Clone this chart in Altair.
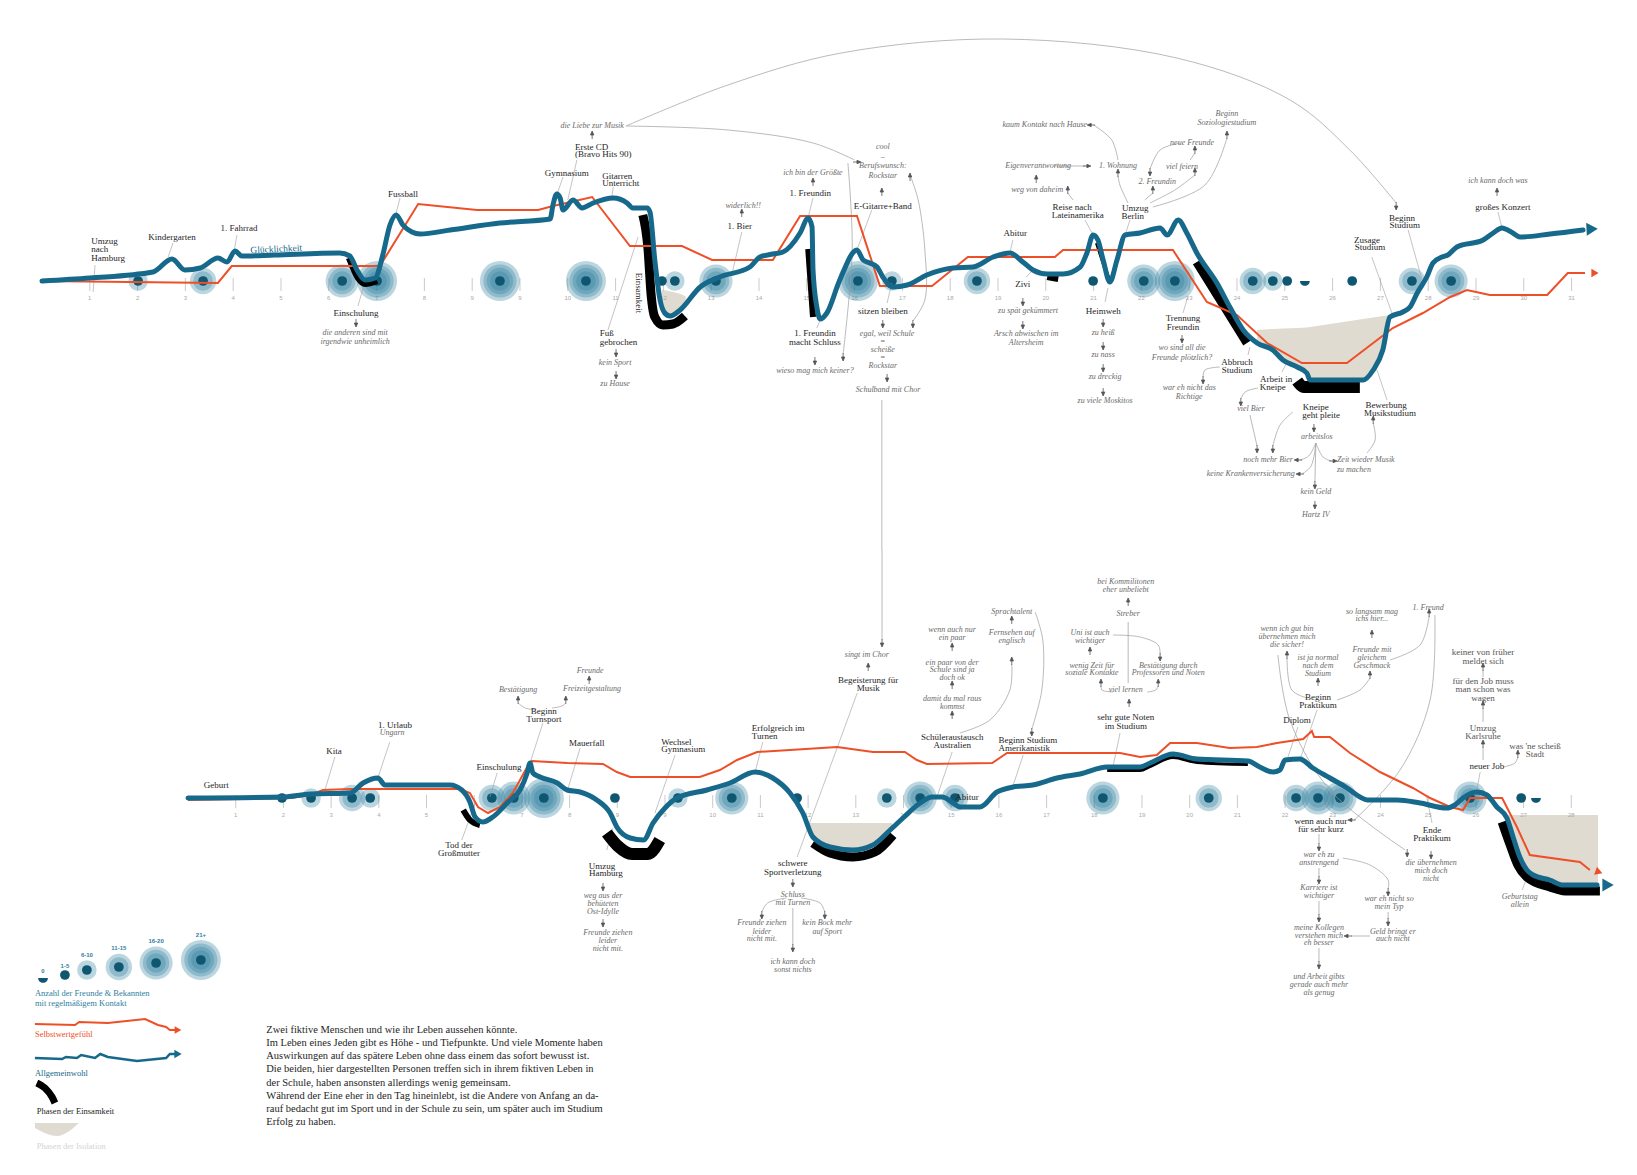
import altair as alt
import pandas as pd

# ====================== DATA (age along the life line, value above the time axis) ======================
TOP_TICK_POS = list(range(1, 33))
TOP_TICK_LAB = ["1", "2", "3", "4", "5", "6", "7", "8", "9", "9", "10", "11", "12", "13", "14", "15",
                "16", "17", "18", "19", "20", "21", "22", "23", "24", "25", "26", "27", "28", "29", "30", "31"]
BOT_TICK_POS = list(range(1, 30))
BOT_TICK_LAB = ["1", "2", "3", "4", "5", "6", "7", "8", "9", "9", "10", "11", "12", "13", "14", "15",
                "16", "17", "18", "19", "20", "21", "22", "23", "24", "25", "26", "27", "28"]

# ---------- person 1 (top) ----------
TOP_WELL = [(0, 0), (1.00, 3), (2.32, 9), (2.72, 22), (2.99, 11), (3.31, 13), (3.68, 23), (3.87, 19), (4.04, 30),
            (4.18, 25), (4.87, 26), (6.23, 28), (6.44, 25), (6.59, 11), (6.76, 1), (6.97, 3), (7.13, 26), (7.28, 56),
            (7.41, 66), (7.55, 56), (7.74, 49), (7.91, 47), (8.54, 51), (9.58, 58), (10.63, 62), (10.69, 76),
            (10.77, 87), (10.84, 83), (10.90, 71), (11.11, 81), (11.30, 73), (11.53, 78), (11.95, 83), (12.24, 78),
            (12.36, 73), (12.66, 73), (12.72, 69), (12.82, 21), (12.93, -19), (13.03, -32), (13.14, -35),
            (13.35, -29), (13.77, -6), (14.18, 4), (14.81, 14), (15.02, 24), (15.29, 27), (15.50, 29), (15.86, 48),
            (16.03, 63), (16.11, 54), (16.13, 11), (16.21, -26), (16.28, -38), (16.42, -32), (16.69, 1), (17.05, 31),
            (17.18, 21), (17.32, 18), (17.47, 14), (17.59, 4), (17.80, -6), (18.10, -4), (18.51, 6), (19.06, 13),
            (19.48, 14), (19.90, 24), (20.25, 28), (20.52, 19), (20.73, 11), (21.03, 7), (21.36, 7), (21.72, 14),
            (21.86, 28), (21.99, 46), (22.09, 41), (22.20, 21), (22.34, -1), (22.49, 21), (22.66, 46), (22.97, 48),
            (23.39, 53), (23.54, 46), (23.77, 61), (23.95, 48), (24.16, 28), (24.58, -2), (24.85, -26), (25.13, -49),
            (25.42, -62), (25.75, -69), (25.96, -79), (26.26, -86), (26.46, -92), (26.53, -99), (27.64, -99),
            (27.85, -89), (28.05, -69), (28.20, -36), (28.47, -31), (28.62, -26), (28.77, -12), (28.97, 4),
            (29.10, 18), (29.29, 24), (29.41, 26), (29.60, 34), (30.15, 41), (30.36, 48), (30.54, 53), (30.77, 48),
            (30.92, 44), (31.55, 47), (32.24, 51)]
TOP_WELL_END = (32.43, 52)
TOP_SELF = [(0, 0), (3.68, -2), (3.97, 15), (7.07, 15), (7.87, 77), (9.10, 71), (10.38, 71), (10.69, 75),
            (11.51, 84), (12.30, 35), (13.39, 35), (14.02, 21), (15.29, 21), (15.86, 65), (17.05, 65), (17.53, -5),
            (18.62, -5), (19.37, 24), (21.19, 24), (21.36, 31), (23.66, 31), (24.37, -21), (25.00, -34),
            (25.63, -62), (26.36, -82), (27.30, -82), (28.26, -47), (28.89, -32), (29.46, -16), (29.81, -9),
            (30.29, -14), (31.49, -14), (31.92, 8), (32.28, 8)]
TOP_SELF_END = (32.49, 8)
TOP_FRIENDS = [(2.01, "6-10"), (3.37, "11-15"), (6.28, "16-20"), (7.01, "21+"), (9.58, "21+"), (11.38, "21+"),
               (12.97, "1-5"), (13.24, "6-10"), (14.10, "16-20"), (17.07, "21+"), (17.78, "6-10"),
               (19.56, "11-15"), (21.99, "1-5"), (23.05, "16-20"), (23.70, "21+"), (25.33, "11-15"),
               (25.75, "6-10"), (26.05, "1-5"), (26.42, "0"), (27.41, "1-5"), (28.66, "11-15"), (29.48, "16-20")]
TOP_LONELY = [("Einschulung", 2, [(6.42, 23), (6.61, 3), (6.76, -3), (7.01, 0)]),
              ("Einsamkeit", 3, [(12.57, 66), (12.68, 31), (12.74, -12), (12.82, -36), (12.99, -44), (13.20, -43),
                                 (13.45, -35)]),
              ("Schluss", 2, [(16.03, 32), (16.13, -36)]),
              ("Zivi", 2, [(21.03, 4), (21.26, 2)]),
              ("Heimweh", 1, [(22.07, 38), (22.20, 19), (22.34, -2)]),
              ("Trennung", 3, [(24.16, 19), (24.69, -22), (25.21, -62)]),
              ("Kneipe", 4, [(26.26, -100), (26.40, -106), (27.57, -106)])]
TOP_ISOLATION = [("a", [(12.97, -9, -34), (13.20, -11, -35), (13.45, -15, -27), (13.47, -16, -16)]),
                 ("b", [(25.42, -49, -62), (25.75, -48, -69), (25.96, -47.5, -79), (26.26, -47, -86),
                        (26.46, -46.5, -92), (26.53, -46, -99), (27.64, -38, -99), (27.85, -36.5, -89),
                        (28.05, -35, -69), (28.20, -34, -36)])]
TOP_EVENTS = [(2.72, 44, "Kindergarten"), (4.12, 53, "1. Fahrrad"), (7.55, 87, "Fussball"),
              (6.57, -32, "Einschulung"), (10.98, 108, "Gymnasium"), (14.60, 55, "1. Bier"),
              (16.07, 88, "1. Freundin"), (16.17, -52, "1. Freundin"), (16.17, -61, "macht Schluss"),
              (17.59, 75, "E-Gitarre+Band"), (17.59, -30, "sitzen bleiben"), (20.36, 48, "Abitur"),
              (20.52, -3, "Zivi"), (21.55, 74, "Reise nach"), (21.67, 66, "Lateinamerika"), (22.87, 73, "Umzug"),
              (22.82, 65, "Berlin"), (22.20, -30, "Heimweh"), (23.87, -37, "Trennung"), (23.87, -46, "Freundin"),
              (25.00, -81, "Abbruch"), (25.00, -89, "Studium"), (25.82, -98, "Arbeit in"), (25.75, -106, "Kneipe"),
              (26.65, -126, "Kneipe"), (26.76, -134, "geht pleite"), (28.12, -124, "Bewerbung"),
              (28.20, -132, "Musikstudium"), (27.72, 41, "Zusage"), (27.78, 34, "Studium"), (28.45, 63, "Beginn"),
              (28.51, 56, "Studium"), (30.56, 74, "großes Konzert")]
TOP_EVENTS_LEFT = [(1.03, 40, "Umzug"), (1.03, 32, "nach"), (1.03, 23, "Hamburg"), (11.15, 134, "Erste CD"),
                   (11.15, 127, "(Bravo Hits 90)"), (11.72, 105, "Gitarren"), (11.72, 98, "Unterricht"),
                   (11.67, -52, "Fuß"), (11.67, -61, "gebrochen")]
TOP_NOTES = [(6.55, -52, "die anderen sind mit"), (6.55, -61, "irgendwie unheimlich"),
             (11.51, 155, "die Liebe zur Musik"), (11.99, -82, "kein Sport"), (11.99, -103, "zu Hause"),
             (14.67, 75, "widerlich!!"), (16.13, 108, "ich bin der Größte"), (16.17, -90, "wieso mag mich keiner?"),
             (17.59, 134, "cool"), (17.59, 124, "–"), (17.59, 115, "Berufswunsch:"), (17.59, 105, "Rockstar"),
             (17.68, -53, "egal, weil Schule"), (17.59, -61, "="), (17.59, -69, "scheiße"), (17.59, -77, "="),
             (17.59, -85, "Rockstar"), (17.70, -109, "Schulband mit Chor"), (20.63, -30, "zu spät gekümmert"),
             (20.59, -53, "Arsch abwischen im"), (20.59, -62, "Altersheim"), (20.84, 115, "Eigenverantwortung"),
             (22.51, 115, "1. Wohnung"), (20.82, 91, "weg von daheim"), (20.98, 156, "kaum Kontakt nach Hause"),
             (23.33, 99, "2. Freundin"), (23.85, 114, "viel feiern"), (24.06, 138, "neue Freunde"),
             (24.79, 167, "Beginn"), (24.79, 158, "Soziologiestudium"), (22.20, -52, "zu heiß"),
             (22.20, -74, "zu nass"), (22.24, -96, "zu dreckig"), (22.24, -120, "zu viele Moskitos"),
             (23.85, -67, "wo sind all die"), (23.85, -77, "Freunde plötzlich?"), (24.00, -107, "war eh nicht das"),
             (24.00, -116, "Richtige"), (25.29, -128, "viel Bier"), (26.67, -156, "arbeitslos"),
             (26.65, -211, "kein Geld"), (26.65, -234, "Hartz IV"), (30.46, 100, "ich kann doch was")]
TOP_NOTES_LEFT = [(27.09, -179, "Zeit wieder Musik"), (27.09, -189, "zu machen")]
TOP_NOTES_RIGHT = [(26.17, -179, "noch mehr Bier"), (26.21, -193, "keine Krankenversicherung")]
TOP_LEADERS = [(1.11, 16, 1.07, -11), (2.74, 38, 2.64, 24), (4.08, 46, 4.02, 30), (7.49, 83, 7.41, 68),
               (6.72, -7, 6.61, -25), (11.19, 121, 11.00, 81), (10.90, 104, 10.77, 86), (11.95, 94, 11.92, 83),
               (11.84, -49, 12.47, 44), (14.64, 49, 14.44, 8), (16.13, 83, 16.03, 64), (16.28, -39, 16.21, -47),
               (17.36, 71, 17.05, 31), (17.68, -22, 17.78, -2), (20.31, 41, 20.25, 28), (20.59, 4, 20.73, 11),
               (21.82, 61, 21.99, 46), (22.76, 61, 22.66, 46), (22.30, -7, 22.24, -21), (23.87, -32, 23.97, -16),
               (25.23, -74, 25.27, -66), (25.94, -91, 26.05, -81), (28.14, -119, 27.93, -89),
               (27.82, 24, 28.24, -32), (28.58, 51, 28.89, -2), (30.46, 69, 30.54, 54)]
TOP_LINKS = [("arc", [(12.22, 155), (14.35, 196), (16.72, 228), (20.10, 242), (23.74, 223), (26.11, 181),
                      (27.36, 131), (28.33, 78)]),
             ("rock", [(12.22, 155), (14.35, 151), (16.13, 138), (17.00, 121)]),
             ("loop", [(18.16, 106), (18.33, 81), (18.47, 31), (18.47, -19), (18.22, -40)]),
             ("beruf", [(16.86, 118), (16.95, 31), (16.76, -73)]),
             ("kaum", [(22.51, 121), (22.38, 141), (22.00, 156)]),
             ("reise", [(21.57, 81), (21.46, 88)]),
             ("eigen", [(21.17, 115), (21.83, 115)]),
             ("u1", [(22.72, 78), (22.55, 96), (22.51, 105)]),
             ("u2", [(23.07, 81), (23.24, 88)]),
             ("u3", [(23.18, 78), (23.70, 91), (24.12, 106)]),
             ("u4", [(23.24, 74), (24.33, 96), (24.79, 143)]),
             ("nf", [(23.81, 138), (23.39, 131), (23.18, 112)]),
             ("fn", [(24.02, 121), (24.12, 128)]),
             ("abbr", [(24.64, -86), (24.33, -89), (24.29, -96)]),
             ("knb", [(25.44, -107), (25.17, -111), (25.08, -118)]),
             ("bier", [(25.27, -134), (25.42, -165)]),
             ("pleite", [(26.17, -131), (25.90, -144), (25.75, -165)]),
             ("a1", [(26.65, -162), (26.50, -175), (26.32, -179)]),
             ("a2", [(26.65, -162), (26.55, -185), (26.36, -193)]),
             ("a3", [(26.65, -162), (26.63, -201)]),
             ("a4", [(26.65, -162), (26.80, -176), (26.97, -180)]),
             ("musik", [(27.72, -172), (27.89, -159), (27.85, -142)]),
             ("schulband", [(17.57, -119), (17.57, -269)])]
TOP_ARROWS = [(6.57, -42, "d"), (11.51, 146, "u"), (12.01, -72, "d"), (12.01, -94, "d"), (14.64, 68, "u"),
              (16.13, 99, "u"), (16.17, -80, "d"), (17.57, 89, "u"), (17.59, -43, "d"), (17.68, -97, "d"),
              (20.52, -21, "d"), (20.52, -44, "d"), (20.80, 102, "u"), (21.86, 115, "r"), (21.95, 156, "l"),
              (21.46, 91, "u"), (22.51, 108, "u"), (23.24, 91, "u"), (24.12, 109, "u"), (24.79, 146, "u"),
              (23.18, 109, "d"), (24.12, 131, "u"), (22.20, -42, "d"), (22.20, -65, "d"), (22.20, -87, "d"),
              (22.20, -111, "d"), (23.85, -58, "d"), (24.29, -99, "d"), (25.08, -121, "d"), (25.42, -168, "d"),
              (25.75, -168, "d"), (26.61, -147, "d"), (26.28, -179, "l"), (26.32, -193, "l"), (26.63, -204, "d"),
              (27.01, -180, "r"), (26.63, -224, "d"), (27.85, -139, "u"), (30.44, 89, "u"), (28.33, 75, "d"),
              (17.05, 119, "r"), (18.16, 104, "u"), (18.22, -43, "d"), (16.76, -76, "d")]

# ---------- person 2 (bottom) ----------
BOT_WELL = [(0, 0), (1.99, 1), (2.56, 4), (3.40, 5), (3.67, 15), (3.98, 20), (4.13, 13), (5.49, 13), (5.74, 8),
            (5.91, -4), (6.02, -19), (6.18, -24), (6.39, -19), (6.71, -4), (6.96, 8), (7.11, 25), (7.17, 35),
            (7.23, 25), (7.38, 21), (7.74, 15), (7.95, 8), (8.22, 6), (8.57, -2), (8.85, -15), (8.99, -29),
            (9.27, -40), (9.55, -42), (9.75, -25), (10.00, -10), (10.25, 0), (10.88, 8), (11.36, 15), (11.89, 26),
            (12.26, 20), (12.62, 5), (12.89, -15), (13.10, -39), (13.46, -49), (13.94, -52), (14.36, -47),
            (14.72, -32), (14.99, -20), (15.35, -5), (15.60, 1), (15.81, 1), (16.04, -5), (16.18, -9), (16.60, -9),
            (16.96, 6), (17.30, 11), (17.71, 13), (18.22, 20), (18.70, 24), (19.27, 31), (19.96, 31), (20.17, 35),
            (20.65, 44), (21.15, 39), (22.22, 37), (22.47, 31), (22.75, 26), (22.89, 28), (23.00, 38), (23.31, 39),
            (23.58, 30), (23.94, 20), (24.30, 10), (24.57, 1), (24.72, -2), (25.35, -2), (25.83, -5), (26.39, -10),
            (26.56, -7), (26.73, 0), (27.02, 6), (27.23, 3), (27.44, -9), (27.65, -20), (27.78, -39), (27.92, -59),
            (28.07, -72), (28.20, -77), (28.55, -82), (28.83, -87), (29.54, -87)]
BOT_WELL_END = (29.77, -87)
BOT_SELF = [(0, -2), (2.14, 0), (2.56, 3), (2.83, 8), (3.40, 9), (5.70, 9), (5.91, 5), (6.08, -9), (6.29, -15),
            (6.54, -9), (6.81, 5), (7.11, 31), (7.21, 37), (7.95, 35), (8.70, 34), (8.99, 26), (9.27, 21),
            (10.73, 21), (11.15, 28), (11.51, 38), (11.93, 46), (12.62, 48), (13.61, 51), (14.36, 46), (15.03, 46),
            (15.28, 38), (15.49, 34), (16.86, 35), (17.17, 45), (19.54, 45), (19.96, 41), (20.31, 43), (20.59, 55),
            (21.15, 55), (21.84, 50), (22.41, 51), (22.83, 55), (23.38, 59), (23.56, 67), (23.61, 61), (23.94, 61),
            (24.36, 45), (24.99, 26), (25.68, 10), (26.04, 0), (26.46, -9), (26.73, -12), (26.88, 0), (27.55, 0),
            (27.86, -29), (28.13, -57), (29.18, -64), (29.39, -72)]
BOT_SELF_END = (29.58, -74)
BOT_FRIENDS = [(1.97, "1-5"), (2.58, "6-10"), (3.44, "11-15"), (3.82, "6-10"), (6.37, "11-15"), (6.83, "16-20"),
               (7.46, "21+"), (8.95, "1-5"), (10.27, "6-10"), (11.40, "16-20"), (12.77, "1-5"), (14.65, "6-10"),
               (15.35, "16-20"), (16.08, "11-15"), (19.18, "16-20"), (21.40, "11-15"), (23.23, "11-15"),
               (23.69, "16-20"), (24.15, "16-20"), (26.88, "16-20"), (27.95, "1-5"), (28.26, "0")]
BOT_LONELY = [("Großmutter", 2, [(5.77, -12), (5.91, -22), (6.12, -27)]),
              ("Umzug", 4, [(8.78, -35), (9.01, -48), (9.31, -56), (9.64, -56), (9.89, -42)]),
              ("Sport", 3, [(13.10, -45), (13.46, -55), (13.94, -59), (14.40, -54), (14.78, -37)]),
              ("Studium", 0, [(19.27, 27.5), (19.96, 27.5), (20.17, 31.5), (20.65, 40.5), (21.15, 35.5),
                              (22.22, 33.5)]),
              ("Ende", 3, [(27.55, -24), (27.72, -47), (27.88, -67), (28.07, -79), (28.55, -89), (28.87, -93),
                           (29.60, -93)])]
BOT_ISOLATION = [("a", [(13.04, -25, -32), (13.10, -25, -39), (13.46, -25, -49), (13.94, -25, -52),
                        (14.36, -25, -47), (14.72, -25, -32), (14.76, -25, -28)]),
                 ("b", [(27.65, -17, -20), (27.78, -17, -39), (27.92, -17, -59), (28.07, -17, -72),
                        (28.20, -17, -77), (28.55, -17, -82), (28.83, -17, -87), (29.56, -17, -87)])]
BOT_EVENTS = [(0.59, 13, "Geburt"), (3.06, 47, "Kita"), (4.34, 73, "1. Urlaub"), (5.68, -47, "Tod der"),
              (5.68, -55, "Großmutter"), (6.52, 31, "Einschulung"), (7.46, 87, "Beginn"), (7.46, 79, "Turnsport"),
              (8.36, 55, "Mauerfall"), (8.68, -68, "Umzug"), (8.76, -75, "Hamburg"),
              (14.26, 118, "Begeisterung für"), (14.26, 110, "Musik"), (12.68, -65, "schwere"),
              (12.68, -74, "Sportverletzung"), (16.02, 61, "Schüleraustausch"), (16.02, 53, "Australien"),
              (17.61, 58, "Beginn Studium"), (17.53, 50, "Amerikanistik"), (16.33, 1, "Abitur"),
              (19.66, 81, "sehr gute Noten"), (19.66, 72, "im Studium"), (23.25, 78, "Diplom"),
              (23.69, 101, "Beginn"), (23.69, 93, "Praktikum"), (23.75, -23, "wenn auch nur"),
              (23.75, -31, "für sehr kurz"), (26.08, -32, "Ende"), (26.08, -40, "Praktikum"),
              (27.23, 32, "neuer Job")]
BOT_EVENTS_GRAY = [(27.15, 70, "Umzug"), (27.15, 62, "Karlsruhe"), (28.24, 52, "was 'ne scheiß"),
                   (28.24, 44, "Stadt"), (27.15, 146, "keiner von früher"), (27.15, 137, "meldet sich"),
                   (27.15, 117, "für den Job muss"), (27.15, 109, "man schon was"), (27.15, 100, "wagen")]
BOT_EVENTS_LEFT = [(9.92, 56, "Wechsel"), (9.92, 49, "Gymnasium"), (11.82, 70, "Erfolgreich im"),
                   (11.82, 62, "Turnen")]
BOT_NOTES = [(4.28, 65, "Ungarn"), (6.92, 108, "Bestätigung"), (8.47, 109, "Freizeitgestaltung"),
             (8.43, 127, "Freunde"), (8.70, -98, "weg aus der"), (8.70, -106, "behüteten"),
             (8.70, -114, "Ost-Idylle"), (8.80, -135, "Freunde ziehen"), (8.80, -143, "leider"),
             (8.80, -151, "nicht mit."), (14.23, 143, "singt im Chor"), (12.68, -97, "Schluss"),
             (12.68, -105, "mit Turnen"), (12.03, -125, "Freunde ziehen"), (12.03, -134, "leider"),
             (12.03, -141, "nicht mit."), (13.40, -125, "kein Bock mehr"), (13.40, -134, "auf Sport"),
             (12.68, -164, "ich kann doch"), (12.68, -172, "sonst nichts"), (16.02, 168, "wenn auch nur"),
             (16.02, 160, "ein paar"), (16.02, 135, "ein paar von der"), (16.02, 128, "Schule sind ja"),
             (16.02, 120, "doch ok"), (16.02, 99, "damit du mal raus"), (16.02, 91, "kommst"),
             (17.27, 165, "Fernsehen auf"), (17.27, 157, "englisch"), (17.27, 186, "Sprachtalent"),
             (19.66, 216, "bei Kommilitonen"), (19.66, 208, "eher unbeliebt"), (19.71, 184, "Streber"),
             (19.66, 108, "viel lernen"), (18.95, 132, "wenig Zeit für"), (18.95, 125, "soziale Kontakte"),
             (18.91, 165, "Uni ist auch"), (18.91, 157, "wichtiger"), (20.55, 132, "Bestätigung durch"),
             (20.55, 125, "Professoren und Noten"), (23.04, 169, "wenn ich gut bin"),
             (23.04, 161, "übernehmen mich"), (23.04, 153, "die sicher!"), (23.69, 140, "ist ja normal"),
             (23.69, 132, "nach dem"), (23.69, 124, "Studium"), (24.82, 148, "Freunde mit"),
             (24.82, 140, "gleichem"), (24.82, 132, "Geschmack"), (24.82, 186, "so langsam mag"),
             (24.82, 179, "ichs hier..."), (26.00, 190, "1. Freund"), (23.71, -57, "war eh zu"),
             (23.71, -65, "anstrengend"), (23.71, -90, "Karriere ist"), (23.71, -98, "wichtiger"),
             (23.71, -130, "meine Kollegen"), (23.71, -138, "verstehen mich"), (23.71, -145, "eh besser"),
             (23.71, -179, "und Arbeit gibts"), (23.71, -187, "gerade auch mehr"), (23.71, -195, "als genug"),
             (25.18, -101, "war eh nicht so"), (25.18, -109, "mein Typ"), (25.26, -134, "Geld bringt er"),
             (25.26, -141, "auch nicht"), (26.06, -65, "die übernehmen"), (26.06, -73, "mich doch"),
             (26.06, -81, "nicht"), (27.92, -99, "Geburtstag"), (27.92, -107, "allein")]
BOT_LEADERS = [(3.08, 41, 2.87, 8), (4.23, 56, 3.98, 20), (5.74, -42, 6.02, -5), (6.48, 25, 6.33, 1),
               (7.44, 75, 7.17, 35), (8.22, 50, 7.97, 10), (8.78, -52, 8.91, -30), (10.21, 43, 9.79, -15),
               (12.05, 56, 11.89, 26), (14.03, 105, 12.77, -59), (16.02, 46, 15.70, 1), (17.51, 43, 17.30, 13),
               (19.54, 65, 19.39, 31), (23.27, 71, 23.04, 38), (23.67, 88, 23.31, 38), (23.79, -12, 24.09, 11),
               (26.08, -25, 25.97, 1), (27.09, 26, 27.02, 8), (27.97, -92, 28.05, -82)]
BOT_LINKS = [("schulband", [(14.55, 248), (14.55, 158)]),
             ("tb", [(7.30, 88), (7.07, 90), (6.92, 95)]),
             ("tf", [(7.63, 90), (7.84, 92), (7.92, 95)]),
             ("sf", [(12.55, -100), (12.15, -105), (12.03, -114)]),
             ("sb", [(12.85, -100), (13.25, -105), (13.35, -114)]),
             ("sk", [(12.68, -110), (12.68, -147)]),
             ("af", [(16.18, 65), (16.81, 78), (17.23, 108), (17.27, 134)]),
             ("sa", [(17.76, 186), (17.92, 158), (17.90, 108), (17.69, 69)]),
             ("ls", [(19.71, 115), (19.71, 176)]),
             ("lw", [(19.39, 106), (19.16, 108), (19.14, 112)]),
             ("ub", [(19.39, 163), (19.96, 161), (20.34, 153), (20.38, 144)]),
             ("lb", [(20.11, 106), (20.29, 108), (20.34, 112)]),
             ("pw", [(23.46, 100), (23.14, 108), (23.04, 140)]),
             ("pf", [(24.09, 98), (24.57, 108), (24.78, 120)]),
             ("gf", [(25.20, 138), (25.83, 153), (26.02, 182)]),
             ("fk", [(26.14, 183), (26.04, 98), (25.41, 28), (24.45, -22)]),
             ("wu", [(22.85, 143), (23.10, 78), (23.94, 8), (25.52, -52)]),
             ("k1", [(23.71, -36), (23.71, -46)]), ("k2", [(23.71, -70), (23.71, -79)]),
             ("k3", [(23.71, -103), (23.71, -117)]), ("k4", [(23.71, -150), (23.71, -164)]),
             ("at", [(24.21, -60), (24.78, -67), (25.16, -82), (25.16, -91)]),
             ("tg", [(25.16, -114), (25.16, -121)]),
             ("gk", [(24.78, -138), (24.38, -138)]),
             ("js", [(27.57, 31), (27.82, 35), (27.88, 41)]),
             ("j1", [(27.15, 38), (27.15, 51)]), ("j2", [(27.15, 76), (27.15, 90)]),
             ("j3", [(27.15, 121), (27.15, 128)])]
BOT_ARROWS = [(6.92, 98, "u"), (7.92, 98, "u"), (8.41, 118, "u"), (8.70, -89, "d"), (8.70, -125, "d"),
              (14.26, 131, "u"), (14.55, 155, "d"), (12.68, -85, "d"), (12.03, -117, "d"), (13.35, -117, "d"),
              (12.68, -150, "d"), (16.02, 151, "u"), (16.02, 113, "u"), (16.02, 83, "u"), (17.27, 137, "u"),
              (17.27, 178, "u"), (17.69, 66, "d"), (19.71, 196, "u"), (19.73, 95, "u"), (19.14, 115, "u"),
              (18.91, 147, "u"), (20.38, 141, "d"), (20.34, 115, "u"), (23.04, 143, "u"), (23.69, 116, "u"),
              (24.78, 123, "u"), (24.82, 164, "u"), (26.02, 185, "u"), (24.40, -22, "l"), (25.56, -55, "d"),
              (23.71, -49, "d"), (23.71, -82, "d"), (23.71, -120, "d"), (23.71, -167, "d"), (25.16, -94, "d"),
              (25.16, -124, "d"), (24.32, -138, "l"), (26.06, -57, "d"), (27.15, 131, "u"), (27.15, 93, "u"),
              (27.15, 54, "u"), (27.88, 44, "u")]

# ---------- legend & description ----------
LEGEND_CATS = ["0", "1-5", "6-10", "11-15", "16-20", "21+"]
LEGEND_AT = [(-3.04, -180), (-2.58, -177), (-2.12, -172), (-1.45, -169), (-0.67, -165), (0.27, -162)]
LEGEND_LAB_VAL = [-173, -168, -157, -150, -143, -137]
LEG_SELF = [(-3.21, -226), (-2.37, -227), (-2.28, -224), (-1.68, -225), (-0.90, -221), (-0.63, -227),
            (-0.46, -229), (-0.38, -232), (-0.27, -232)]
LEG_WELL = [(-3.21, -260), (-2.64, -261), (-2.56, -259), (-2.33, -260), (-2.24, -257), (-1.95, -260),
            (-1.84, -256), (-1.68, -259), (-1.07, -263), (-0.46, -260), (-0.38, -256), (-0.27, -256)]
LEG_LONELY = [(-3.17, -285), (-3.00, -290), (-2.85, -299), (-2.79, -305)]
LEG_ISO = [(-3.21, -325, -330), (-2.95, -325, -336), (-2.74, -325, -338), (-2.52, -325, -334), (-2.29, -325, -325)]
LEG_TEXT = [(-3.21, -195, "Anzahl der Freunde & Bekannten", "teal"), (-3.21, -205, "mit regelmäßigem Kontakt", "teal"),
            (-3.21, -236, "Selbstwertgefühl", "red"), (-3.21, -275, "Allgemeinwohl", "blue"),
            (-3.17, -313, "Phasen der Einsamkeit", "ink"), (-3.17, -348, "Phasen der Isolation", "pale")]
DESC_AGE = 1.64
DESC_VAL = [-232, -245, -258, -271, -285, -298, -311, -324]
DESC = ["Zwei fiktive Menschen und wie ihr Leben aussehen könnte.",
        "Im Leben eines Jeden gibt es Höhe - und Tiefpunkte. Und viele Momente haben",
        "Auswirkungen auf das spätere Leben ohne dass einem das sofort bewusst ist.",
        "Die beiden, hier dargestellten Personen treffen sich in ihrem fiktiven Leben in",
        "der Schule, haben ansonsten allerdings wenig gemeinsam.",
        "Während der Eine eher in den Tag hineinlebt, ist die Andere von Anfang an da-",
        "rauf bedacht gut im Sport und in der Schule zu sein, um später auch im Studium",
        "Erfolg zu haben."]

# ====================== STYLE ======================
FONT = "Liberation Serif"
BLUE, RED, TEAL, DOT = "#17698b", "#ee4f27", "#2f80a0", "#0f5670"
INK, NOTE, LEAD, ISO = "#1e1e1e", "#6a6a6a", "#9c9c9c", "#dfdbd1"
COLORS = {"teal": TEAL, "red": RED, "blue": BLUE, "ink": INK, "pale": "#d4d4d4"}
LEVEL = {"0": 0, "1-5": 1, "6-10": 2, "11-15": 3, "16-20": 4, "21+": 5}
RING_AREA = {2: 380, 3: 700, 4: 1100, 5: 1600}      # symbol size (diameter^2) of each ring
LONELY_W = {0: 3, 1: 4, 2: 6, 3: 9, 4: 12}
ANGLE = {"d": 0, "u": 180, "l": 90, "r": 270}
HALF = "M -1 0 A 1 1 0 0 0 1 0 Z"
ARROW = "M 0 -1 L 0 0.1 M -0.42 0 L 0 1 L 0.42 0 Z"


def pts(rows, cols):
    return pd.DataFrame(rows, columns=cols)


def circle_layers(X, Y, fr):
    out = []
    rings = pts([(a, v, RING_AREA[lv]) for (a, v, k) in fr for lv in range(k, 1, -1)], ["age", "val", "sz"])
    out.append(alt.Chart(rings).mark_circle(color=TEAL, opacity=0.32).encode(
        X("age"), Y("val"), size=alt.Size("sz:Q", scale=None)))
    dots = pts([(a, v) for (a, v, k) in fr if k >= 1], ["age", "val"])
    out.append(alt.Chart(dots).mark_circle(color=DOT, opacity=1, size=95).encode(X("age"), Y("val")))
    half = pts([(a, v) for (a, v, k) in fr if k == 0], ["age", "val"])
    out.append(alt.Chart(half).mark_point(shape=HALF, filled=True, color=DOT, opacity=1, size=95).encode(
        X("age"), Y("val")))
    return out


def person(P, xdom, ydom, w, h, extra=None):
    sx = alt.Scale(domain=xdom, nice=False, zero=False)
    sy = alt.Scale(domain=ydom, nice=False, zero=False)

    def X(f):
        return alt.X(f, type="quantitative", scale=sx, axis=None)

    def Y(f):
        return alt.Y(f, type="quantitative", scale=sy, axis=None)

    L = []
    iso = pts([(g, a, t, b) for g, ps in P["iso"] for (a, t, b) in ps], ["g", "age", "top", "bot"])
    L.append(alt.Chart(iso).mark_area(color=ISO, interpolate="monotone").encode(
        X("age"), Y("top"), alt.Y2("bot"), detail="g:N"))
    tk = pd.DataFrame({"p": P["ticks"], "lab": P["ticklab"]})
    L.append(alt.Chart(tk).mark_rule(color="#bdbdbd", strokeWidth=0.8).encode(
        X("p"), y=alt.YDatum(3, type="quantitative", scale=sy, axis=None), y2=alt.Y2Datum(-10)))
    L.append(alt.Chart(tk).mark_text(font="Liberation Sans", fontSize=6, color="#aaaaaa").encode(
        X("p"), y=alt.YDatum(-17, type="quantitative", scale=sy, axis=None), text="lab:N"))
    L.extend(circle_layers(X, Y, [(a, v, LEVEL[c]) for (a, v, c) in P["friends"]]))
    ld = pts(P["leaders"], ["a1", "v1", "a2", "v2"])
    L.append(alt.Chart(ld).mark_rule(color=LEAD, strokeWidth=0.6).encode(
        X("a1"), Y("v1"), alt.X2("a2"), alt.Y2("v2")))
    lk = pts([(g, i, a, v) for g, ps in P["links"] for i, (a, v) in enumerate(ps)], ["g", "i", "age", "val"])
    L.append(alt.Chart(lk).mark_line(color=LEAD, strokeWidth=0.7, interpolate="catmull-rom").encode(
        X("age"), Y("val"), detail="g:N", order="i:Q"))
    lo = pts([(g, LONELY_W[s], i, a, v) for g, s, ps in P["lonely"] for i, (a, v) in enumerate(ps)],
             ["g", "sw", "i", "age", "val"])
    L.append(alt.Chart(lo).mark_line(color="#000000", interpolate="monotone").encode(
        X("age"), Y("val"), detail="g:N", order="i:Q", strokeWidth=alt.StrokeWidth("sw:Q", scale=None)))
    sf = pts([(i, a, v) for i, (a, v) in enumerate(P["self"])], ["i", "age", "val"])
    L.append(alt.Chart(sf).mark_line(color=RED, strokeWidth=2).encode(X("age"), Y("val"), order="i:Q"))
    L.append(alt.Chart(pts([P["self_end"]], ["age", "val"])).mark_point(
        shape="triangle-right", filled=True, color=RED, opacity=1, size=70, angle=P["self_ang"]).encode(
        X("age"), Y("val")))
    wl = pts([(i, a, v) for i, (a, v) in enumerate(P["well"])], ["i", "age", "val"])
    L.append(alt.Chart(wl).mark_line(color=BLUE, strokeWidth=5, interpolate="monotone", strokeCap="round",
                                     strokeJoin="round").encode(X("age"), Y("val"), order="i:Q"))
    L.append(alt.Chart(pts([P["well_end"]], ["age", "val"])).mark_point(
        shape="triangle-right", filled=True, color=BLUE, opacity=1, size=170, angle=P["well_ang"]).encode(
        X("age"), Y("val")))
    ar = pts([(a, v, ANGLE[d]) for (a, v, d) in P["arrows"]], ["age", "val", "ang"])
    L.append(alt.Chart(ar).mark_point(shape=ARROW, filled=True, fill="#555555", stroke="#555555",
                                      strokeWidth=0.8, opacity=1, size=64).encode(
        X("age"), Y("val"), angle=alt.Angle("ang:Q", scale=None)))

    def txt(rows, align="center", italic=False, color=INK, size=9):
        return alt.Chart(pts(rows, ["age", "val", "t"])).mark_text(
            font=FONT, fontSize=size, color=color, align=align, baseline="middle",
            fontStyle="italic" if italic else "normal").encode(X("age"), Y("val"), text="t:N")

    L.append(txt(P["events"]))
    L.append(txt(P["events_left"], align="left"))
    if P.get("events_gray"):
        L.append(txt(P["events_gray"], color="#555555"))
    L.append(txt(P["notes"], italic=True, color=NOTE, size=8))
    if P.get("notes_left"):
        L.append(txt(P["notes_left"], align="left", italic=True, color=NOTE, size=8))
    if P.get("notes_right"):
        L.append(txt(P["notes_right"], align="right", italic=True, color=NOTE, size=8))
    if extra:
        L.extend(extra(X, Y, sy))
    return alt.layer(*L).properties(width=w, height=h)


def top_extra(X, Y, sy):
    return [
        alt.Chart(pts([(4.90, 32, "Glücklichkeit")], ["age", "val", "t"])).mark_text(
            font=FONT, fontSize=9.5, color=BLUE, angle=357).encode(X("age"), Y("val"), text="t:N"),
        alt.Chart(pts([(12.50, -12, "Einsamkeit")], ["age", "val", "t"])).mark_text(
            font=FONT, fontSize=9, color=INK, angle=90).encode(X("age"), Y("val"), text="t:N"),
    ]


def bottom_extra(X, Y, sy):
    out = []
    leg = [(a, v, LEVEL[c]) for c, (a, v) in zip(LEGEND_CATS, LEGEND_AT)]
    out.extend(circle_layers(X, Y, leg))
    labs = pts([(a, lv, c) for c, (a, v), lv in zip(LEGEND_CATS, LEGEND_AT, LEGEND_LAB_VAL)], ["age", "val", "t"])
    out.append(alt.Chart(labs).mark_text(font="Liberation Sans", fontSize=6, fontWeight="bold", color=TEAL).encode(
        X("age"), Y("val"), text="t:N"))
    out.append(alt.Chart(pts([(i, a, v) for i, (a, v) in enumerate(LEG_SELF)], ["i", "age", "val"])).mark_line(
        color=RED, strokeWidth=2).encode(X("age"), Y("val"), order="i:Q"))
    out.append(alt.Chart(pts([(-0.21, -232)], ["age", "val"])).mark_point(
        shape="triangle-right", filled=True, color=RED, opacity=1, size=60).encode(X("age"), Y("val")))
    out.append(alt.Chart(pts([(i, a, v) for i, (a, v) in enumerate(LEG_WELL)], ["i", "age", "val"])).mark_line(
        color=BLUE, strokeWidth=2.5).encode(X("age"), Y("val"), order="i:Q"))
    out.append(alt.Chart(pts([(-0.21, -256)], ["age", "val"])).mark_point(
        shape="triangle-right", filled=True, color=BLUE, opacity=1, size=70).encode(X("age"), Y("val")))
    out.append(alt.Chart(pts([(i, a, v) for i, (a, v) in enumerate(LEG_LONELY)], ["i", "age", "val"])).mark_line(
        color="#000000", strokeWidth=7, interpolate="monotone").encode(X("age"), Y("val"), order="i:Q"))
    out.append(alt.Chart(pts(LEG_ISO, ["age", "top", "bot"])).mark_area(color=ISO, interpolate="monotone").encode(
        X("age"), Y("top"), alt.Y2("bot")))
    for (a, v, t, c) in LEG_TEXT:
        out.append(alt.Chart(pts([(a, v, t)], ["age", "val", "t"])).mark_text(
            font=FONT, fontSize=8.5, color=COLORS[c], align="left", baseline="middle").encode(
            X("age"), Y("val"), text="t:N"))
    desc = pts([(DESC_AGE, v, t) for v, t in zip(DESC_VAL, DESC)], ["age", "val", "t"])
    out.append(alt.Chart(desc).mark_text(font=FONT, fontSize=10.5, color=INK, align="left",
                                         baseline="middle").encode(X("age"), Y("val"), text="t:N"))
    return out


TOP = dict(ticks=TOP_TICK_POS, ticklab=TOP_TICK_LAB, well=TOP_WELL, well_end=TOP_WELL_END, well_ang=357,
           self=TOP_SELF, self_end=TOP_SELF_END, self_ang=0,
           friends=[(a, 0, c) for a, c in TOP_FRIENDS], lonely=TOP_LONELY, iso=TOP_ISOLATION,
           events=TOP_EVENTS, events_left=TOP_EVENTS_LEFT, notes=TOP_NOTES, notes_left=TOP_NOTES_LEFT,
           notes_right=TOP_NOTES_RIGHT, leaders=TOP_LEADERS, links=TOP_LINKS, arrows=TOP_ARROWS)
BOT = dict(ticks=BOT_TICK_POS, ticklab=BOT_TICK_LAB, well=BOT_WELL, well_end=BOT_WELL_END, well_ang=0,
           self=BOT_SELF, self_end=BOT_SELF_END, self_ang=20,
           friends=[(a, 0, c) for a, c in BOT_FRIENDS], lonely=BOT_LONELY, iso=BOT_ISOLATION,
           events=BOT_EVENTS, events_left=BOT_EVENTS_LEFT, events_gray=BOT_EVENTS_GRAY, notes=BOT_NOTES,
           leaders=BOT_LEADERS, links=BOT_LINKS, arrows=BOT_ARROWS)

top = person(TOP, [-0.711, 33.201], [-269, 273], 1621, 542, top_extra)
bottom = person(BOT, [-3.774, 30.21], [-369, 248], 1621, 617, bottom_extra)

chart = alt.vconcat(top, bottom, spacing=0, bounds="flush").properties(
    padding=0, background="white").configure_view(stroke=None)

chart.save("out.html", embed_options={"renderer": "svg", "actions": False})
